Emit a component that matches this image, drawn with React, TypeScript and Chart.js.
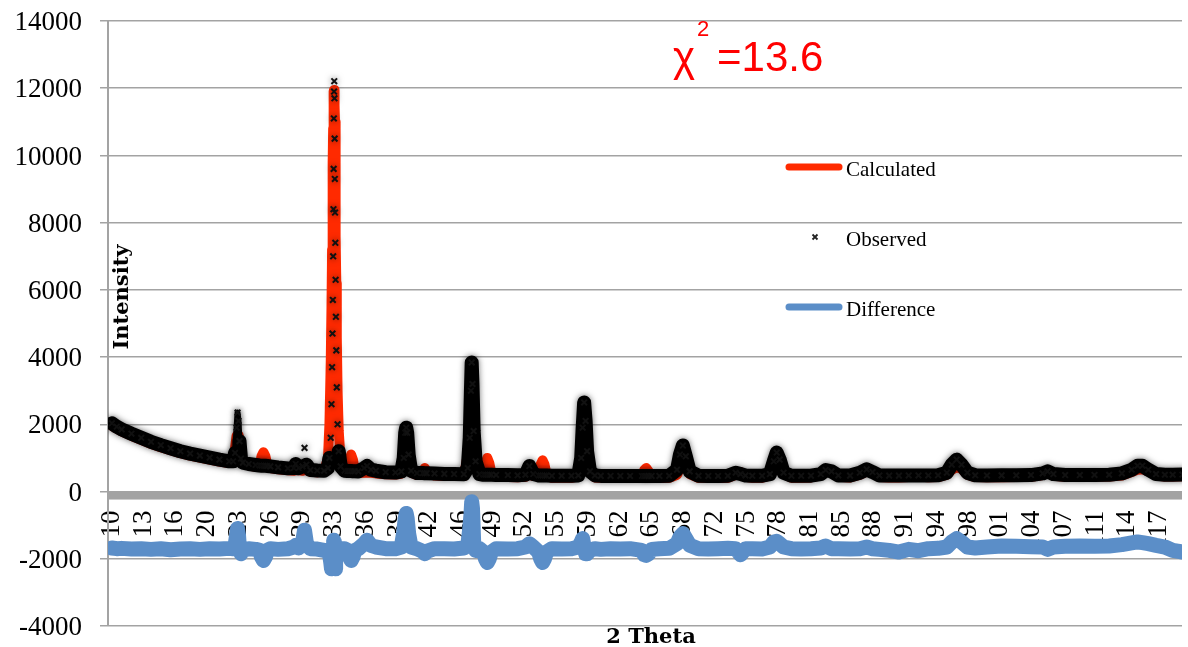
import React, { useEffect, useRef } from 'react';
import { Chart, registerables } from 'chart.js';

Chart.register(...registerables);

// ---- data ----
const twoTheta = [
  10.0, 10.5, 11.0, 12.0, 13.0, 14.0, 15.0, 16.0, 17.0, 18.0, 19.0, 20.0, 21.0, 22.0,
  22.4, 22.6, 22.75, 22.85, 22.95, 23.05, 23.2, 23.4, 24.0, 24.7,
  25.1, 25.3, 25.5, 25.7, 25.9, 26.2,
  27.0, 28.0, 28.6, 28.8, 29.1, 29.5, 29.7, 29.9, 30.3, 31.0, 31.7,
  32.1, 32.25, 32.38, 32.46, 32.52, 32.56, 32.6, 32.63, 32.66, 32.68, 32.7, 32.72, 32.74,
  32.76, 32.78, 32.8, 32.82, 32.85, 32.88, 32.91, 32.95, 33.0, 33.08, 33.2, 33.4,
  33.8, 34.1, 34.3, 34.47, 34.65, 34.85, 35.2, 35.8, 36.1, 36.5, 37.0, 38.0, 39.0,
  39.6, 39.85, 40.0, 40.1, 40.2, 40.35, 40.6, 41.2, 41.8, 42.0, 42.2, 43.0, 44.0, 45.0, 46.0,
  46.4, 46.6, 46.72, 46.8, 46.88, 47.0, 47.2, 47.6,
  48.0, 48.2, 48.4, 48.6, 48.8, 49.3, 50.5, 51.5,
  52.3, 52.7, 53.1, 53.65, 53.85, 54.05, 54.25, 54.45, 55.0, 56.0, 57.0,
  57.7, 58.0, 58.15, 58.3, 58.45, 58.6, 58.9, 59.4, 60.0, 61.0, 62.0, 63.0,
  64.2, 64.45, 64.65, 64.9, 65.2,
  66.0, 67.0, 67.8, 68.1, 68.4, 68.7, 69.1, 70.0, 71.0, 72.0, 73.0, 73.8, 74.3, 74.8,
  75.5, 76.5, 77.3, 77.7, 78.0, 78.3, 78.7, 79.5, 80.5, 81.5, 82.5, 83.0, 83.6, 84.3,
  85.5, 86.5, 87.2, 87.8, 88.5, 89.5, 90.5, 91.5, 92.5, 93.5, 94.5,
  95.4, 95.9, 96.4, 96.9, 97.5, 98.3, 99.5, 101.0, 102.5, 104.0, 105.2, 105.7, 106.3,
  107.5, 109.0, 110.5, 112.0, 113.3, 114.3, 114.9, 115.4, 116.0, 116.8, 117.7, 118.5, 119.5,
];

const observed = [
  2030, 1930, 1850, 1720, 1600, 1480, 1380, 1290, 1200, 1130, 1070, 1010, 950, 900,
  900, 1150, 1900, 2350, 2100, 1500, 980, 860, 820, 790,
  775, 770, 770, 765, 760, 750,
  720, 690, 700, 820, 700, 750, 1300, 800, 640, 625, 620,
  700, 1000, 1600, 2600, 3700, 4700, 5700, 7000, 8400, 9600, 11100, 11900, 12210,
  11700, 10500, 9300, 8300, 7400, 6300, 5200, 4200, 3100, 2000, 1200, 750,
  620, 610, 610, 610, 605, 605, 600, 700, 760, 650, 620, 575, 565,
  600, 1000, 1750, 1900, 1750, 1100, 620, 550, 550, 545, 545, 535, 525, 520, 515,
  700, 1600, 3000, 3840, 3200, 1800, 900, 520,
  500, 500, 500, 500, 500, 495, 490, 485,
  500, 760, 520, 480, 480, 480, 478, 475, 470, 470, 468,
  480, 1000, 1900, 2650, 2100, 1200, 600, 480, 466, 465, 465, 465,
  465, 465, 465, 465, 465,
  465, 470, 650, 1100, 1370, 1050, 600, 470, 465, 465, 470, 560, 520, 480,
  470, 470, 520, 900, 1160, 950, 560, 470, 470, 472, 520, 640, 600, 480,
  475, 560, 660, 580, 480, 475, 475, 478, 478, 480, 485,
  560, 800, 950, 800, 560, 485, 480, 482, 485, 490, 540, 600, 520,
  490, 492, 495, 500, 540, 650, 770, 770, 650, 520, 500, 500, 505,
];

const calculated = [
  1960, 1870, 1790, 1660, 1540, 1420, 1320, 1230, 1140, 1070, 1010, 950, 890, 850,
  900, 1300, 1650, 1700, 1680, 1550, 1200, 860, 770, 740,
  780, 1050, 1170, 1050, 780, 700,
  660, 630, 620, 640, 630, 620, 640, 630, 590, 570, 600,
  1000, 2000, 3800, 5500, 7200, 8600, 9800, 10800, 11500, 11800, 11900, 11950, 11950,
  11900, 11800, 11500, 11000, 10000, 8800, 7600, 6200, 4600, 3000, 1800, 900,
  580, 640, 950, 1100, 950, 640, 550, 560, 560, 560, 540, 515, 505,
  530, 650, 800, 850, 820, 680, 560, 490, 600, 700, 600, 475, 465, 460, 460,
  1100, 2000, 2300, 2320, 2300, 2000, 1200, 550,
  560, 850, 1000, 850, 560, 440, 430, 425,
  440, 520, 460, 520, 800, 930, 800, 520, 410, 410, 410,
  450, 1300, 2100, 2650, 2400, 1700, 700, 420, 410, 405, 405, 405,
  430, 640, 700, 600, 430,
  405, 410, 500, 700, 900, 800, 520, 410, 410, 405, 410, 500, 580, 440,
  410, 410, 480, 700, 950, 800, 520, 410, 410, 420, 480, 600, 620, 440,
  420, 500, 600, 560, 430, 420, 420, 430, 450, 425, 430,
  500, 650, 720, 680, 500, 430, 425, 425, 430, 440, 490, 560, 470,
  440, 440, 445, 450, 480, 580, 650, 660, 600, 480, 450, 450, 455,
];

const difference = [
  -1680, -1700, -1690, -1710, -1700, -1720, -1700, -1730, -1710, -1700, -1720, -1700, -1710, -1690,
  -1700, -1600, -1300, -1100, -1300, -1700, -1850, -1750, -1700, -1720,
  -1750, -1950, -2050, -1950, -1750, -1700,
  -1720, -1700, -1650, -1600, -1680, -1500, -1150, -1550, -1700, -1710, -1750,
  -1750, -1850, -2100, -2300, -2250, -2100, -1900, -1800, -1700, -1600, -1450, -1500, -1600,
  -1800, -2000, -2200, -2300, -2250, -2100, -1950, -1850, -1750, -1700, -1700, -1700,
  -1700, -1750, -1950, -2050, -1950, -1750, -1700, -1550, -1450, -1600, -1650, -1700, -1700,
  -1650, -1200, -800, -650, -800, -1250, -1650, -1700, -1780, -1850, -1780, -1700, -1700, -1710, -1680,
  -1600, -1100, -700, -300, -500, -1500, -1750, -1700,
  -1800, -2000, -2110, -2000, -1800, -1700, -1710, -1700,
  -1650, -1550, -1650, -1800, -2000, -2110, -2000, -1800, -1700, -1710, -1700,
  -1650, -1500, -1400, -1650, -1850, -1850, -1750, -1700, -1720, -1700, -1710, -1700,
  -1750, -1880, -1900, -1850, -1720,
  -1700, -1690, -1550, -1350, -1250, -1400, -1600, -1700, -1710, -1700, -1690, -1700, -1880, -1700,
  -1700, -1710, -1650, -1500, -1480, -1550, -1650, -1700, -1710, -1700, -1680, -1620, -1700, -1700,
  -1710, -1700, -1650, -1700, -1720, -1750, -1800, -1720, -1760, -1700, -1690,
  -1650, -1500, -1400, -1500, -1650, -1680, -1650, -1620, -1630, -1640, -1650, -1720, -1650,
  -1630, -1620, -1630, -1620, -1580, -1530, -1500, -1520, -1550, -1600, -1650, -1750, -1800,
];

const xTickLabels = [
  '10', '13', '16', '20', '23', '26', '29', '33', '36', '39', '42', '46', '49', '52', '55', '59', '62',
  '65', '68', '72', '75', '78', '81', '85', '88', '91', '94', '98', '101', '104', '107', '111', '114', '117',
];
const xTickStart = 10;
const xTickStep = 3.245;
const seriesNames = ['Calculated', 'Observed', 'Difference'];
const chiSquared = '13.6';
// steep reflections where the observed points show as separate markers: [from, to, line width]
const markerRanges = [
  [22.6, 23.05, 6],
  [29.5, 29.9, 0],
  [32.2, 33.25, 0],
];

// ---- styles ----
const RED = '#FF2A00';
const BLUE = '#5B8EC8';
const GRID = '#A3A3A3';
const OBS_WIDTH = 14;
const SERIF = '"Liberation Serif", "Times New Roman", serif';
const BOLD_SERIF = '"DejaVu Serif", serif';
const SANS = '"Liberation Sans", Arial, sans-serif';

const overlayPlugin = {
  id: 'overlay',
  beforeDatasetsDraw(chart: any) {
    const { ctx, chartArea, scales } = chart;
    const y0 = scales.y.getPixelForValue(0);
    ctx.save();
    ctx.fillStyle = GRID;
    ctx.fillRect(chartArea.left, y0, chartArea.right - chartArea.left, 8);
    ctx.restore();
  },
  beforeDatasetDraw(chart: any, args: any) {
    if (args.index === 1) {
      const ctx = chart.ctx;
      ctx.save();
      ctx.shadowColor = 'rgba(0,0,0,0.55)';
      ctx.shadowBlur = 6;
    }
  },
  afterDatasetDraw(chart: any, args: any) {
    if (args.index === 1) chart.ctx.restore();
  },
  afterDraw(chart: any) {
    const ctx = chart.ctx;
    ctx.save();
    // axis titles
    ctx.fillStyle = '#000';
    ctx.font = `bold 21px ${BOLD_SERIF}`;
    ctx.textAlign = 'center';
    ctx.textBaseline = 'alphabetic';
    ctx.fillText('2 Theta', 651, 643);
    ctx.save();
    ctx.translate(128, 297);
    ctx.rotate(-Math.PI / 2);
    ctx.fillText('Intensity', 0, 0);
    ctx.restore();

    // chi squared
    ctx.fillStyle = '#FF0000';
    ctx.textAlign = 'left';
    ctx.font = `42px ${SANS}`;
    ctx.fillText('χ', 673, 71);
    ctx.font = `22px ${SANS}`;
    ctx.fillText('2', 697, 36);
    ctx.font = `42px ${SANS}`;
    ctx.fillText('=' + chiSquared, 717, 71);

    // legend
    ctx.lineCap = 'round';
    ctx.lineWidth = 7;
    ctx.strokeStyle = RED;
    ctx.beginPath();
    ctx.moveTo(789, 167);
    ctx.lineTo(839, 167);
    ctx.stroke();
    ctx.strokeStyle = BLUE;
    ctx.beginPath();
    ctx.moveTo(789, 307);
    ctx.lineTo(839, 307);
    ctx.stroke();
    ctx.lineCap = 'butt';
    ctx.lineWidth = 1.8;
    ctx.strokeStyle = '#222';
    ctx.beginPath();
    ctx.moveTo(812.5, 234.5);
    ctx.lineTo(817.5, 239.5);
    ctx.moveTo(817.5, 234.5);
    ctx.lineTo(812.5, 239.5);
    ctx.stroke();
    ctx.fillStyle = '#000';
    ctx.font = `21px ${SERIF}`;
    ctx.fillText(seriesNames[0], 846, 176);
    ctx.fillText(seriesNames[1], 846, 246);
    ctx.fillText(seriesNames[2], 846, 316);
    ctx.restore();
  },
};

export default function App() {
  const canvasRef = useRef<HTMLCanvasElement | null>(null);

  useEffect(() => {
    if (!canvasRef.current) return;
    const pts = (arr: number[]) => arr.map((y, i) => ({ x: twoTheta[i], y }));
    const rangeOf = (i: number) =>
      markerRanges.findIndex(([a, b]) => twoTheta[i] >= a && twoTheta[i] <= b);
    const segRange = (c: any) => {
      const r = rangeOf(c.p0DataIndex);
      return r >= 0 && r === rangeOf(c.p1DataIndex) ? r : -1;
    };

    const chart = new Chart(canvasRef.current, {
      type: 'line',
      data: {
        datasets: [
          {
            label: seriesNames[0],
            data: pts(calculated),
            order: 1,
            borderColor: RED,
            borderWidth: 10,
            borderJoinStyle: 'round',
            borderCapStyle: 'round',
            pointRadius: 0,
            tension: 0,
          },
          {
            label: seriesNames[1],
            data: pts(observed),
            order: 0,
            borderColor: '#000',
            borderWidth: OBS_WIDTH,
            borderJoinStyle: 'round',
            borderCapStyle: 'round',
            pointStyle: 'crossRot',
            pointRadius: 4,
            pointBorderWidth: 2,
            pointBorderColor: '#111',
            pointBackgroundColor: '#111',
            tension: 0,
            segment: {
              borderColor: (c: any) => {
                const r = segRange(c);
                return r >= 0 && markerRanges[r][2] === 0 ? 'rgba(0,0,0,0)' : '#000';
              },
              borderWidth: (c: any) => {
                const r = segRange(c);
                return r >= 0 && markerRanges[r][2] > 0 ? markerRanges[r][2] : OBS_WIDTH;
              },
            },
          },
          {
            label: seriesNames[2],
            data: pts(difference),
            order: 2,
            borderColor: BLUE,
            borderWidth: 15,
            borderJoinStyle: 'round',
            borderCapStyle: 'round',
            pointRadius: 0,
            tension: 0,
          },
        ],
      } as any,
      options: {
        animation: false,
        responsive: true,
        maintainAspectRatio: false,
        events: [],
        layout: { padding: { top: 21, bottom: 21, left: 8, right: 0 } },
        plugins: { legend: { display: false }, tooltip: { enabled: false } },
        scales: {
          x: {
            type: 'linear',
            position: { y: 0 } as any,
            min: 9.6,
            max: 119.45,
            afterBuildTicks: (s: any) => {
              s.ticks = xTickLabels.map((_, i) => ({ value: xTickStart + i * xTickStep }));
            },
            afterFit: (s: any) => {
              s.paddingLeft = 0;
              s.paddingRight = 0;
              s.paddingTop = 0;
              s.paddingBottom = 0;
            },
            ticks: {
              autoSkip: false,
              minRotation: 90,
              maxRotation: 90,
              padding: 19,
              color: '#000',
              font: { family: SERIF, size: 27 },
              callback: (_v: any, i: number) => xTickLabels[i],
            },
            grid: { display: false, drawTicks: false },
            border: { display: false },
          },
          y: {
            type: 'linear',
            min: -4000,
            max: 14000,
            afterFit: (s: any) => {
              s.width = 100;
              s.paddingTop = 0;
              s.paddingBottom = 0;
            },
            ticks: {
              stepSize: 2000,
              padding: 18,
              labelOffset: 2,
              color: '#000',
              font: { family: SERIF, size: 27 },
              callback: (v: any) => String(v),
            },
            grid: { color: GRID, lineWidth: 1.5, tickLength: 8, drawTicks: true },
            border: { display: true, color: GRID, width: 2 },
          },
        },
      } as any,
      plugins: [overlayPlugin],
    });
    return () => chart.destroy();
  }, []);

  return (
    <div style={{ position: 'absolute', left: 0, top: 0, width: 1188, height: 647 }}>
      <canvas ref={canvasRef} />
    </div>
  );
}
